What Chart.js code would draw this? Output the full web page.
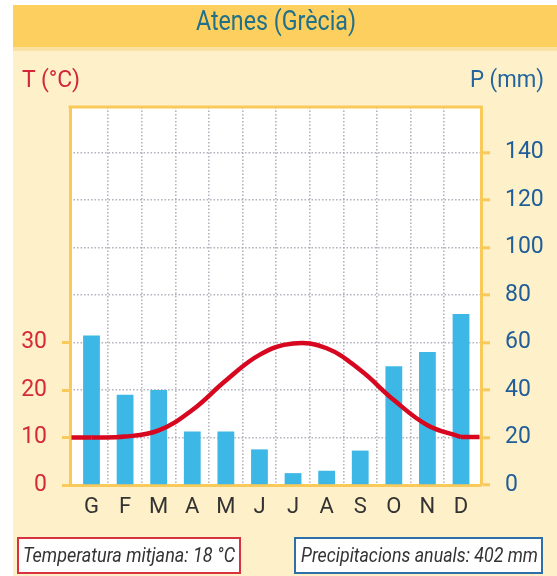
<!DOCTYPE html>
<html><head><meta charset="utf-8">
<script src="https://cdn.jsdelivr.net/npm/chart.js@4"></script>
<style>
html,body{margin:0;padding:0;width:557px;height:576px;overflow:hidden;background:#fff;}
#band{position:absolute;left:13px;top:5px;width:544px;height:42px;background:#FDCF5F;}
#seam{position:absolute;left:13px;top:47px;width:544px;height:4px;background:#FCE2A2;}
#cream{position:absolute;left:13px;top:51px;width:544px;height:525px;background:#FEF0C8;}
#c{position:absolute;left:0;top:0;}
.t{position:absolute;white-space:nowrap;font-family:Roboto,sans-serif;transform-origin:0 0;line-height:1;}
.box{position:absolute;background:#fff;border:2px solid;box-sizing:border-box;}
</style></head><body>
<div id="band"></div><div id="seam"></div><div id="cream"></div>
<div class="box" style="left:17px;top:537px;width:224px;height:37px;border-color:#D8323F;"></div>
<div class="box" style="left:294px;top:537px;width:249px;height:37px;border-color:#2F6FA8;"></div>
<canvas id="c" width="557" height="576"></canvas>
<span class="t" data-w="160" style="left:196px;top:7.8px;font-size:27px;color:#21708A;">Atenes (Grècia)</span>
<span class="t" data-w="58" style="left:22px;top:66.8px;font-size:24px;color:#D3263A;">T (°C)</span>
<span class="t" data-w="74" style="left:470px;top:66.8px;font-size:24px;color:#23659F;">P (mm)</span>
<span class="t" data-w="212" style="left:23px;top:545.3px;font-size:21px;font-style:italic;color:#333;">Temperatura mitjana: 18 °C</span>
<span class="t" data-w="237" style="left:301px;top:545.3px;font-size:21px;font-style:italic;color:#333;">Precipitacions anuals: 402 mm</span>
<script>
const months = ['G','F','M','A','M','J','J','A','S','O','N','D'];
const temperature = [10, 10.2, 11.5, 15.8, 22, 27.4, 29.8, 28.8, 24.2, 17.9, 12.6, 10.1];
const precipitation = [63, 38, 40, 22.5, 22.5, 15, 5, 6, 14.5, 50, 56, 72];
const tempTicks = [0, 10, 20, 30];
const precTicks = [0, 20, 40, 60, 80, 100, 120, 140];

const RED = '#D6071F', YELLOW = '#F9C95A', BLUE_BAR = '#3DB8E6', GRID = 'rgba(160,160,172,0.8)';
const X_START = -0.64, X_RANGE = 12.235;

document.querySelectorAll('[data-w]').forEach(el => {
  const w = el.getBoundingClientRect().width;
  el.style.transform = 'scaleX(' + (+el.dataset.w / w) + ')';
});

const frame = {
  id: 'frame',
  beforeDraw(chart) {
    const {ctx, chartArea: a} = chart;
    ctx.save(); ctx.fillStyle = '#fff';
    ctx.fillRect(a.left, a.top, a.right - a.left, a.bottom - a.top);
    ctx.restore();
  },
  afterDatasetsDraw(chart) {
    const {ctx, chartArea: a} = chart;
    const meta = chart.getDatasetMeta(1);
    const p0 = meta.data[0], pn = meta.data[meta.data.length - 1];
    ctx.save();
    ctx.strokeStyle = RED; ctx.lineWidth = 4.5;
    ctx.beginPath();
    ctx.moveTo(a.left + 1.5, p0.y); ctx.lineTo(p0.x, p0.y);
    ctx.moveTo(pn.x, pn.y); ctx.lineTo(a.right - 1.5, pn.y);
    ctx.stroke();
    ctx.strokeStyle = YELLOW; ctx.lineWidth = 3;
    ctx.beginPath(); ctx.moveTo(a.left - 1.5, a.top); ctx.lineTo(a.right + 1.5, a.top); ctx.stroke();
    ctx.restore();
  }
};

new Chart(document.getElementById('c'), {
  type: 'bar',
  data: {
    labels: months,
    datasets: [
      { type: 'bar', data: precipitation, yAxisID: 'yP', backgroundColor: BLUE_BAR,
        barPercentage: 0.5, categoryPercentage: 1, order: 1 },
      { type: 'line', data: temperature, yAxisID: 'yT', borderColor: RED, borderWidth: 4.5,
        pointRadius: 0, tension: 0.4, fill: false, order: 0 }
    ]
  },
  options: {
    responsive: false, animation: false,
    layout: { padding: { top: 107, left: 0, right: 0, bottom: 0 } },
    plugins: { legend: { display: false }, tooltip: { enabled: false } },
    scales: {
      x: {
        type: 'category', offset: true, position: 'bottom',
        afterBuildTicks: s => { s._startValue = X_START; s._valueRange = X_RANGE; },
        afterFit: s => { s.height = 91; },
        grid: { offset: true, drawTicks: false, lineWidth: 1.6,
          color: c => (c.type !== 'tick' || c.index === 0) ? 'transparent' : GRID },
        border: { color: YELLOW, width: 3, dash: [1.6, 1.9] },
        ticks: { color: '#333', font: { family: 'Roboto', size: 22 }, padding: 9, maxRotation: 0, autoSkip: false }
      },
      yT: {
        position: 'left', min: 0, max: 79.6,
        afterBuildTicks: s => { s.ticks = tempTicks.map(v => ({ value: v })); },
        afterFit: s => { s.width = 70; },
        grid: { drawOnChartArea: false, tickLength: 8, tickColor: YELLOW, tickWidth: 3 },
        border: { color: YELLOW, width: 3 },
        ticks: { color: '#D42A3C', font: { family: 'Roboto', size: 23 }, padding: 15 }
      },
      yP: {
        position: 'right', min: 0, max: 159.2,
        afterBuildTicks: s => { s.ticks = precTicks.map(v => ({ value: v })); },
        afterFit: s => { s.width = 76; },
        grid: { drawOnChartArea: true, lineWidth: 1.6, tickLength: 9, tickColor: YELLOW, tickWidth: 3,
          tickBorderDash: [], color: c => (c.tick && c.tick.value === 0) ? 'transparent' : GRID },
        border: { color: YELLOW, width: 3, dash: [1.6, 1.9] },
        ticks: { color: '#1F5E98', font: { family: 'Roboto', size: 23 }, padding: 15 }
      }
    }
  },
  plugins: [frame]
});
</script>
</body></html>
